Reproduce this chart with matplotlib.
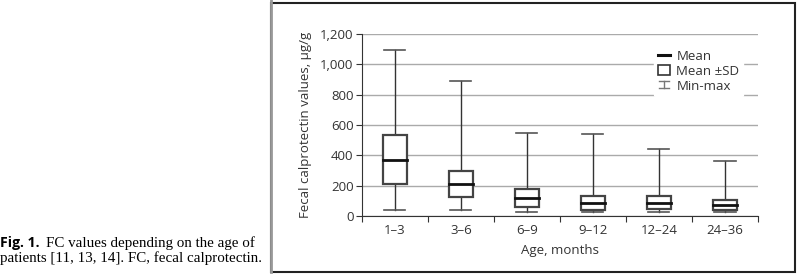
import numpy as np
import matplotlib
matplotlib.use('agg')
import matplotlib.pyplot as plt
from matplotlib.lines import Line2D
from matplotlib.patches import Rectangle
from matplotlib.legend_handler import HandlerBase

# values (ug/g)
ages = ['1\u20133', '3\u20136', '6\u20139', '9\u201312', '12\u201324', '24\u201336']
means = [370, 210, 120, 85, 88, 75]
sd_low = [210, 125, 60, 40, 50, 40]
sd_high = [535, 295, 180, 135, 130, 105]
mins = [40, 40, 30, 30, 30, 30]
maxs = [1095, 890, 550, 540, 445, 360]

plt.rcParams['font.family'] = ['Open Sans', 'DejaVu Sans']
fsize = 9.5
dark = '#333333'
gridc = '#aaaaaa'


class MinMaxHandler(HandlerBase):
    def create_artists(self, legend, orig, xd, yd, w, h, fs, trans):
        cx = xd + w / 2
        lo, hi = yd + 0.15 * h, yd + 0.85 * h
        hw = w * 0.45
        arts = [Line2D([cx, cx], [lo, hi], color='#777777', lw=1),
                Line2D([cx - hw, cx + hw], [lo, lo], color='#777777', lw=1),
                Line2D([cx - hw, cx + hw], [hi, hi], color='#777777', lw=1)]
        for a in arts:
            a.set_transform(trans)
        return arts


fig = plt.figure(figsize=[7.97, 2.76], dpi=100)
ax = fig.add_axes([0.454, 0.217, 0.497, 0.66])

x = np.arange(len(ages))
bw = 0.36
capw = 0.16
for i in x:
    ax.plot([i, i], [mins[i], sd_low[i]], color=dark, lw=1, zorder=3)
    ax.plot([i, i], [sd_high[i], maxs[i]], color=dark, lw=1, zorder=3)
    ax.plot([i - capw, i + capw], [mins[i], mins[i]], color='#555555', lw=1.2, zorder=3)
    ax.plot([i - capw, i + capw], [maxs[i], maxs[i]], color='#555555', lw=1.2, zorder=3)
    ax.add_patch(Rectangle((i - bw / 2, sd_low[i]), bw, sd_high[i] - sd_low[i],
                           facecolor='white', edgecolor='#444444', lw=1.6, zorder=4))
    ax.plot([i - bw / 2, i + bw / 2], [means[i], means[i]], color='#111111', lw=2.0, zorder=5)

ax.set_xlim(-0.5, len(ages) - 0.5)
ax.set_ylim(0, 1200)
ax.set_yticks(range(0, 1201, 200))
ax.set_yticklabels(['0', '200', '400', '600', '800', '1,000', '1,200'])
ax.set_xticks(np.arange(-0.5, len(ages), 1.0))
ax.set_xticklabels([])
ax.set_xticks(x, minor=True)
ax.set_xticklabels(ages, minor=True)
ax.tick_params(axis='x', which='minor', length=0, pad=6, labelsize=fsize, colors='#333333')
ax.tick_params(axis='x', which='major', length=4, direction='out', color=dark)
ax.tick_params(axis='y', length=4, direction='out', color=dark, labelsize=fsize, labelcolor='#333333', pad=2)
ax.grid(axis='y', color=gridc, lw=1)
ax.set_axisbelow(True)
for s in ['top', 'right']:
    ax.spines[s].set_visible(False)
ax.spines['left'].set_color(dark)
ax.spines['bottom'].set_color(dark)
ax.set_xlabel('Age, months', fontsize=fsize, color='#333333', labelpad=5)
ax.set_ylabel('Fecal calprotectin values, \u00b5g/g', fontsize=fsize, color='#333333', labelpad=6)

h_mean = Line2D([], [], color='#111111', lw=2.2)
h_sd = Rectangle((0, 0), 1, 1, facecolor='white', edgecolor='#333333', lw=1.2)
h_mm = Line2D([], [])
leg = ax.legend([h_mean, h_sd, h_mm], ['Mean', 'Mean \u00b1SD', 'Min-max'],
                handler_map={h_mm: MinMaxHandler()},
                loc='upper right', bbox_to_anchor=(0.98, 0.97), frameon=True,
                framealpha=1, edgecolor='white', fontsize=fsize,
                handlelength=0.9, handleheight=0.8, handletextpad=0.5,
                labelspacing=0.15, borderpad=0.3)
for t in leg.get_texts():
    t.set_color('#333333')

# frame around the chart
fig.patches.append(Rectangle((271 / 797, 4 / 276), 524 / 797, 272 / 276 - 4 / 276 + 0.002,
                             transform=fig.transFigure, fill=False, edgecolor='#222222', lw=1.5))
fig.add_artist(Line2D([271 / 797, 271 / 797], [4 / 276, 1], transform=fig.transFigure,
                      color='#999999', lw=2))

# caption
capsize = 10.8
fig.text(0.0, 1 - 243 / 276, 'Fig. 1.', fontsize=capsize - 0.6, fontweight='bold',
         family=['Open Sans', 'DejaVu Sans'], va='center', ha='left')
fig.text(0.058, 1 - 243 / 276, 'FC values depending on the age of', fontsize=capsize,
         family=['Liberation Serif', 'DejaVu Serif'], va='center', ha='left')
fig.text(0.0, 1 - 258 / 276, 'patients [11, 13, 14]. FC, fecal calprotectin.', fontsize=capsize,
         family=['Liberation Serif', 'DejaVu Serif'], va='center', ha='left')

plt.savefig('out.png', dpi=100)
